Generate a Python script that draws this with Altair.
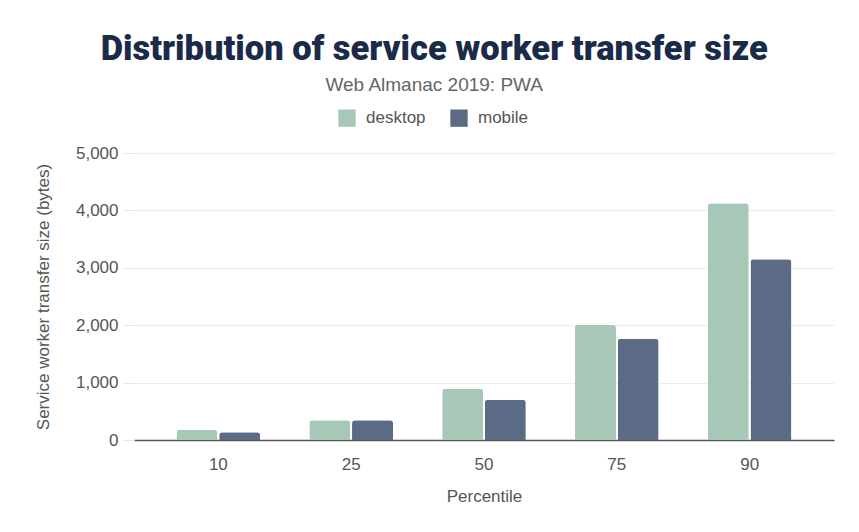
import altair as alt
import pandas as pd

percentiles = ["10", "25", "50", "75", "90"]
desktop = [175, 345, 895, 2010, 4125]
mobile = [135, 345, 700, 1765, 3150]
clients = ["desktop", "mobile"]
colors = ["#a7c8b6", "#5c6b85"]

rows = []
for i, p in enumerate(percentiles):
    rows.append({"percentile": p, "client": "desktop", "bytes": desktop[i]})
    rows.append({"percentile": p, "client": "mobile", "bytes": mobile[i]})
df = pd.DataFrame(rows)

FONT = "Liberation Sans"
TFONT = "Roboto"

chart = (
    alt.Chart(df)
    .mark_bar(cornerRadiusTopLeft=3, cornerRadiusTopRight=3)
    .encode(
        x=alt.X(
            "percentile:N",
            sort=percentiles,
            title="Percentile",
            scale=alt.Scale(paddingInner=0.37, paddingOuter=0.32),
            axis=alt.Axis(
                labelAngle=0,
                labelFontSize=17,
                labelColor="#555555",
                labelPadding=16,
                titleFontSize=17,
                titleColor="#555555",
                titleFontWeight="normal",
                titlePadding=16,
                domainColor="#555555",
                domainWidth=1.5,
                ticks=False,
                grid=False,
            ),
        ),
        xOffset=alt.XOffset("client:N", sort=clients, scale=alt.Scale(paddingInner=0.04)),
        y=alt.Y(
            "bytes:Q",
            title="Service worker transfer size (bytes)",
            scale=alt.Scale(domain=[0, 5000]),
            axis=alt.Axis(
                values=[0, 1000, 2000, 3000, 4000, 5000],
                format=",d",
                labelFontSize=17,
                labelColor="#555555",
                labelPadding=4,
                titleFontSize=17,
                titleColor="#555555",
                titleFontWeight="normal",
                titlePadding=23,
                domain=False,
                tickSize=12,
                tickColor="#e8e8e8",
                gridColor="#ececec",
            ),
        ),
        color=alt.Color(
            "client:N",
            sort=clients,
            scale=alt.Scale(domain=clients, range=colors),
            legend=alt.Legend(
                orient="none",
                legendX=204,
                legendY=-44,
                direction="horizontal",
                title=None,
                symbolType="square",
                symbolSize=300,
                symbolStrokeWidth=0,
                labelFontSize=17,
                labelColor="#555555",
                columnPadding=24,
                labelOffset=10,
            ),
        ),
    )
    .properties(
        width=700,
        height=287,
        padding={"left": 26, "top": 23, "right": 10, "bottom": 10},
        title=alt.TitleParams(
            text="Distribution of service worker transfer size",
            subtitle="Web Almanac 2019: PWA",
            fontSize=34.5,
            font=TFONT,
            fontWeight=900,
            color="#1a2b49",
            subtitleFontSize=19,
            subtitleColor="#666666",
            subtitleFont=FONT,
            subtitlePadding=9,
            anchor="middle",
            frame="bounds",
            offset=13,
        ),
    )
    .configure(font=FONT)
    .configure_view(stroke=None)
)

chart.save("out.html", embed_options={"renderer": "svg", "actions": False})
